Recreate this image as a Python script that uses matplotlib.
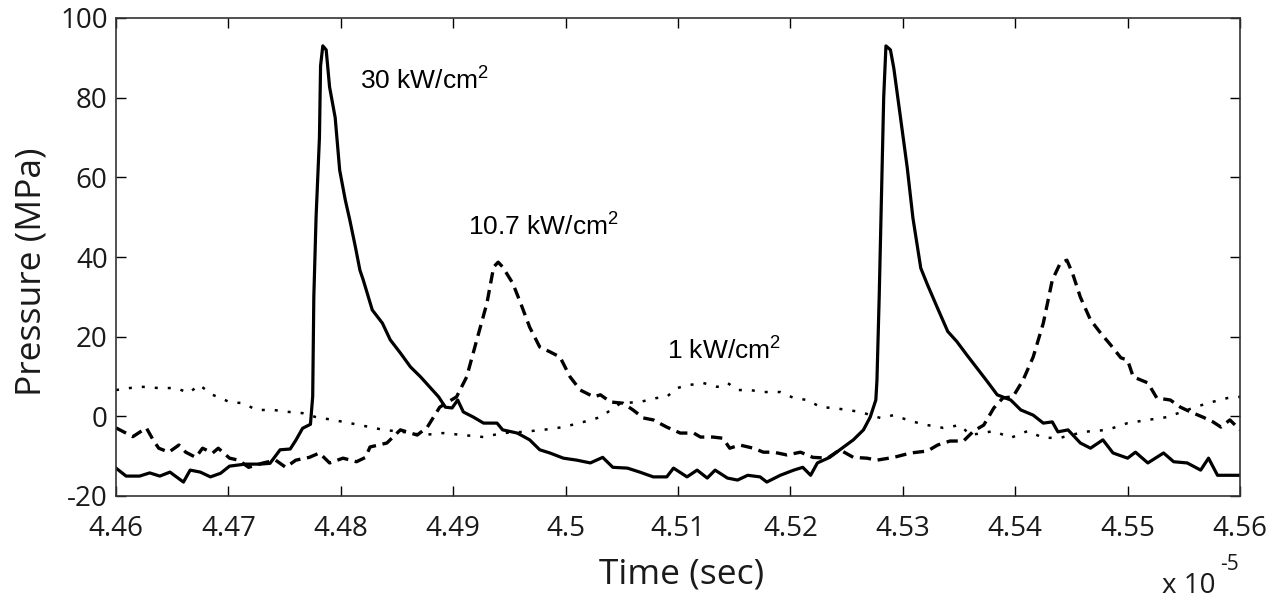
import matplotlib
matplotlib.use("Agg")
import matplotlib.pyplot as plt

# ---- data (time in units of 1e-5 s, pressure in MPa) ----
t_30 = [4.4600, 4.4609, 4.4621, 4.4630, 4.4639, 4.4648, 4.4660, 4.4666, 4.4675, 4.4684,
        4.4693, 4.4701, 4.4715, 4.4728, 4.4737, 4.4746, 4.4755, 4.4760, 4.4766, 4.4773,
        4.4775, 4.4776, 4.4778, 4.4781, 4.4782, 4.4784, 4.4787, 4.4790, 4.4795, 4.4799,
        4.4804, 4.4808, 4.4813, 4.4817, 4.4820, 4.4828, 4.4837, 4.4844, 4.4853, 4.4862,
        4.4871, 4.4879, 4.4887, 4.4893, 4.4899, 4.4904, 4.4909, 4.4918, 4.4927, 4.4939,
        4.4944, 4.4957, 4.4968, 4.4977, 4.4986, 4.4998, 4.5010, 4.5022, 4.5033, 4.5042,
        4.5055, 4.5066, 4.5078, 4.5090, 4.5096, 4.5108, 4.5117, 4.5126, 4.5133, 4.5144,
        4.5153, 4.5162, 4.5173, 4.5179, 4.5191, 4.5203, 4.5211, 4.5218, 4.5224, 4.5235,
        4.5244, 4.5256, 4.5265, 4.5271, 4.5276, 4.5277, 4.5279, 4.5281, 4.5283, 4.5285,
        4.5289, 4.5292, 4.5298, 4.5304, 4.5309, 4.5316, 4.5322, 4.5331, 4.5340, 4.5348,
        4.5357, 4.5366, 4.5375, 4.5384, 4.5396, 4.5405, 4.5416, 4.5425, 4.5433, 4.5438,
        4.5447, 4.5458, 4.5467, 4.5478, 4.5487, 4.5500, 4.5507, 4.5518, 4.5532, 4.5541,
        4.5553, 4.5565, 4.5572, 4.5580, 4.5591, 4.5600]
p_30 = [-13.0, -15.0, -15.0, -14.2, -15.0, -14.0, -16.5, -13.5, -14.0, -15.2,
        -14.3, -12.5, -12.0, -12.0, -11.8, -8.4, -8.2, -6.0, -3.0, -2.0,
        5.0, 30.0, 50.0, 70.0, 88.0, 93.0, 92.0, 82.7, 75.0, 61.8,
        54.3, 49.3, 42.5, 36.7, 34.2, 26.7, 23.4, 19.2, 15.9, 12.4,
        9.9, 7.4, 4.9, 2.3, 2.1, 4.1, 1.1, -0.2, -1.7, -1.7,
        -3.4, -4.2, -5.9, -8.4, -9.2, -10.5, -11.0, -11.7, -10.3, -12.8,
        -13.0, -14.0, -15.2, -15.2, -13.0, -15.2, -13.5, -15.5, -13.5, -15.5,
        -16.0, -14.8, -15.2, -16.5, -14.8, -13.5, -12.8, -14.8, -11.7, -10.3,
        -8.4, -5.9, -3.4, -0.2, 4.1, 9.0, 30.0, 55.0, 80.0, 93.0,
        92.0, 87.4, 74.9, 62.3, 49.8, 37.2, 33.0, 27.1, 21.3, 18.8,
        15.4, 12.1, 8.8, 5.4, 4.1, 1.6, 0.3, -1.7, -1.4, -3.9,
        -3.4, -6.7, -8.0, -5.9, -9.2, -10.5, -9.0, -11.7, -9.2, -11.4,
        -11.7, -13.5, -10.5, -14.8, -14.8, -14.8]

t_107 = [4.4600, 4.4615, 4.4627, 4.4633, 4.4638, 4.4647, 4.4656, 4.4662, 4.4671, 4.4677,
         4.4686, 4.4691, 4.4701, 4.4709, 4.4718, 4.4731, 4.4742, 4.4751, 4.4760, 4.4772,
         4.4781, 4.4790, 4.4802, 4.4814, 4.4822, 4.4826, 4.4841, 4.4853, 4.4868, 4.4877,
         4.4888, 4.4903, 4.4912, 4.4921, 4.4930, 4.4936, 4.4940, 4.4944, 4.4953, 4.4960,
         4.4968, 4.4977, 4.4986, 4.4995, 4.5004, 4.5013, 4.5025, 4.5031, 4.5040, 4.5051,
         4.5060, 4.5069, 4.5078, 4.5090, 4.5102, 4.5114, 4.5120, 4.5131, 4.5140, 4.5146,
         4.5155, 4.5167, 4.5176, 4.5185, 4.5197, 4.5209, 4.5220, 4.5233, 4.5244, 4.5256,
         4.5268, 4.5277, 4.5292, 4.5307, 4.5322, 4.5331, 4.5342, 4.5354, 4.5363, 4.5372,
         4.5381, 4.5389, 4.5398, 4.5407, 4.5416, 4.5425, 4.5433, 4.5440, 4.5446, 4.5451,
         4.5458, 4.5467, 4.5476, 4.5485, 4.5494, 4.5500, 4.5505, 4.5518, 4.5526, 4.5538,
         4.5547, 4.5556, 4.5567, 4.5576, 4.5583, 4.5591, 4.5600]
p_107 = [-2.9, -5.1, -2.9, -5.9, -8.0, -9.0, -7.2, -9.0, -10.3, -8.0,
         -9.2, -8.0, -10.5, -11.0, -12.8, -11.7, -11.0, -12.8, -11.0, -10.3,
         -9.2, -11.7, -10.5, -11.4, -10.3, -7.7, -6.7, -3.4, -4.7, -2.7,
         2.3, 4.9, 9.9, 19.2, 28.4, 37.5, 38.7, 37.5, 33.4, 28.4,
         22.4, 17.4, 16.2, 14.9, 9.9, 6.6, 4.9, 5.4, 3.6, 3.3,
         1.6, -0.4, -0.9, -2.7, -4.2, -4.2, -5.2, -5.2, -5.5, -8.0,
         -7.2, -8.0, -9.0, -9.0, -9.7, -9.0, -10.3, -10.5, -8.4, -10.3,
         -10.5, -11.0, -10.3, -9.2, -8.7, -7.2, -6.2, -6.2, -3.7, -2.2,
         2.1, 4.6, 4.9, 9.1, 14.9, 23.4, 34.2, 38.4, 39.2, 35.9,
         29.9, 24.2, 20.9, 17.9, 14.7, 14.1, 9.9, 8.4, 4.6, 4.1,
         2.3, 1.1, -0.2, -1.4, -2.7, -0.9, -3.4]

t_1 = [4.4600, 4.4612, 4.4624, 4.4638, 4.4653, 4.4665, 4.4674, 4.4686, 4.4701, 4.4713,
       4.4725, 4.4740, 4.4754, 4.4766, 4.4778, 4.4793, 4.4808, 4.4826, 4.4838, 4.4855,
       4.4873, 4.4891, 4.4909, 4.4927, 4.4944, 4.4962, 4.4980, 4.4998, 4.5016, 4.5031,
       4.5049, 4.5066, 4.5081, 4.5090, 4.5099, 4.5111, 4.5122, 4.5135, 4.5144, 4.5153,
       4.5164, 4.5176, 4.5191, 4.5203, 4.5215, 4.5227, 4.5238, 4.5251, 4.5262, 4.5280,
       4.5292, 4.5307, 4.5322, 4.5336, 4.5351, 4.5360, 4.5381, 4.5396, 4.5411, 4.5425,
       4.5440, 4.5461, 4.5482, 4.5500, 4.5518, 4.5535, 4.5553, 4.5571, 4.5589, 4.5600]
p_1 = [6.6, 7.1, 7.4, 7.1, 7.1, 5.9, 7.9, 5.4, 3.6, 3.3,
       1.6, 1.6, 1.1, 0.8, -0.2, -0.9, -1.7, -2.7, -3.4, -3.9,
       -4.7, -4.2, -4.7, -5.2, -4.2, -3.9, -3.4, -2.7, -1.4, -0.2,
       3.3, 3.6, 4.6, 4.9, 7.1, 7.9, 8.4, 7.4, 8.4, 6.6,
       6.6, 6.1, 6.1, 4.6, 4.1, 2.3, 2.1, 1.6, 1.1, -0.4,
       0.3, -1.2, -2.2, -2.9, -2.2, -4.7, -3.7, -5.4, -3.7, -5.4,
       -5.4, -3.9, -3.4, -1.7, -0.9, -0.2, 1.6, 3.3, 4.6, 4.9]

x_ticks = [4.46, 4.47, 4.48, 4.49, 4.50, 4.51, 4.52, 4.53, 4.54, 4.55, 4.56]
x_tick_labels = ["4.46", "4.47", "4.48", "4.49", "4.5", "4.51", "4.52", "4.53", "4.54", "4.55", "4.56"]
y_ticks = [-20, 0, 20, 40, 60, 80, 100]
y_tick_labels = ["-20", "0", "20", "40", "60", "80", "100"]

labels = ["30 kW/cm$^\\mathregular{2}$", "10.7 kW/cm$^\\mathregular{2}$", "1 kW/cm$^\\mathregular{2}$"]
label_pos = [(4.4817, 82.4), (4.4913, 45.5), (4.5090, 14.6)]

# ---- figure ----
fig = plt.figure(figsize=(12.78, 6.05), dpi=100)
ax = fig.add_axes([116 / 1278, 109 / 605, 1124 / 1278, 478 / 605])

ax.plot(t_30, p_30, color="black", lw=2.3, ls="-")
ax.plot(t_107, p_107, color="black", lw=2.4, ls=(0, (3.4, 2.0)))
ax.plot(t_1, p_1, color="black", lw=1.8, ls=(0, (1.2, 4.0)))

ax.set_xlim(4.46, 4.56)
ax.set_ylim(-20, 100)
ax.set_xticks(x_ticks)
ax.set_xticklabels(x_tick_labels)
ax.set_yticks(y_ticks)
ax.set_yticklabels(y_tick_labels)

tick_font = "Open Sans"
ax.tick_params(axis="both", which="major", direction="in", length=7, width=1,
               top=True, right=True, labelsize=20, colors="black")
ax.tick_params(axis="x", pad=14)
ax.tick_params(axis="y", pad=6)
for lbl in ax.get_xticklabels() + ax.get_yticklabels():
    lbl.set_fontfamily(tick_font)
    lbl.set_color("#1a1a1a")
for sp in ax.spines.values():
    sp.set_linewidth(1.2)
    sp.set_color("#333333")

ax.set_xlabel("Time (sec)", fontsize=25.5, family=tick_font, color="#1a1a1a")
ax.xaxis.set_label_coords(0.5036, -0.128)
ax.set_ylabel("Pressure (MPa)", fontsize=25.5, family=tick_font, color="#1a1a1a")
ax.yaxis.set_label_coords(-0.060, 0.47)

fig.text(1162 / 1278, 1 - 593 / 605, "x 10", fontsize=20, family=tick_font,
         color="#1a1a1a", ha="left", va="baseline")
fig.text(1220 / 1278, 1 - 570 / 605, "-5", fontsize=15, family=tick_font,
         color="#1a1a1a", ha="left", va="baseline")

for txt, (tx, ty) in zip(labels, label_pos):
    ax.text(tx, ty, txt, fontsize=19, family="Liberation Sans", color="black",
            ha="left", va="baseline")

fig.savefig("out.png", dpi=100, facecolor="white")
